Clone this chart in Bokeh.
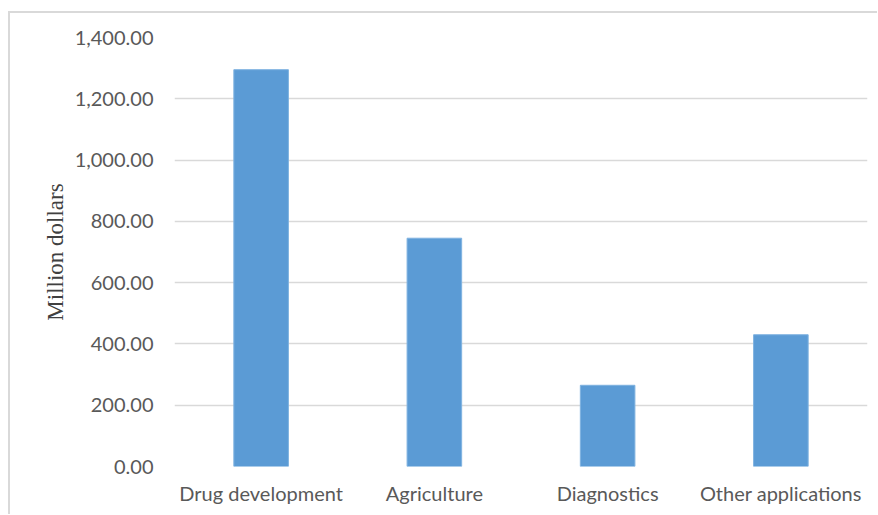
from bokeh.plotting import figure
from bokeh.models import FactorRange, Range1d, NumeralTickFormatter, ColumnDataSource, FixedTicker
from bokeh.embed import file_html
from bokeh.resources import INLINE

categories = ["Drug development", "Agriculture", "Diagnostics", "Other applications"]
values = [1295, 745, 265, 430]
y_ticks = [0, 200, 400, 600, 800, 1000, 1200, 1400]

source = ColumnDataSource(data=dict(cat=categories, val=values))

p = figure(x_range=FactorRange(factors=categories, range_padding=0),
           y_range=Range1d(0, 1400),
           width=869, height=503, output_backend="svg", toolbar_location=None,
           min_border_left=164, min_border_right=12, min_border_top=24, min_border_bottom=50)
p.margin = (11, 0, 0, 8)
p.styles = {"border-left": "2px solid #d9d9d9", "border-top": "2px solid #d9d9d9", "box-sizing": "border-box"}

p.vbar(x="cat", top="val", width=0.315, source=source,
       fill_color="#5B9BD5", line_color="#7FB2E0", line_width=1)

p.outline_line_color = None
p.background_fill_color = "white"
p.border_fill_color = "white"

p.xgrid.grid_line_color = None
p.ygrid.grid_line_color = "#d9d9d9"
p.ygrid.grid_line_width = 1.5
p.ygrid.ticker = FixedTicker(ticks=y_ticks)

p.yaxis.ticker = FixedTicker(ticks=y_ticks)
p.yaxis.formatter = NumeralTickFormatter(format="0,0.00")
for ax in (p.xaxis, p.yaxis):
    ax.axis_line_color = None
    ax.major_tick_line_color = None
    ax.minor_tick_line_color = None
    ax.major_label_text_color = "#595959"
    ax.major_label_text_font = "Lato"
    ax.major_label_text_font_size = "20px"
p.yaxis.major_label_standoff = 15
p.xaxis.major_label_standoff = 8

p.yaxis.axis_label = "Million dollars"
p.yaxis.axis_label_text_font = "Liberation Serif"
p.yaxis.axis_label_text_font_style = "normal"
p.yaxis.axis_label_text_font_size = "23px"
p.yaxis.axis_label_text_color = "#404040"
p.yaxis.axis_label_standoff = 4

open("out.html", "w").write(file_html(p, INLINE))
